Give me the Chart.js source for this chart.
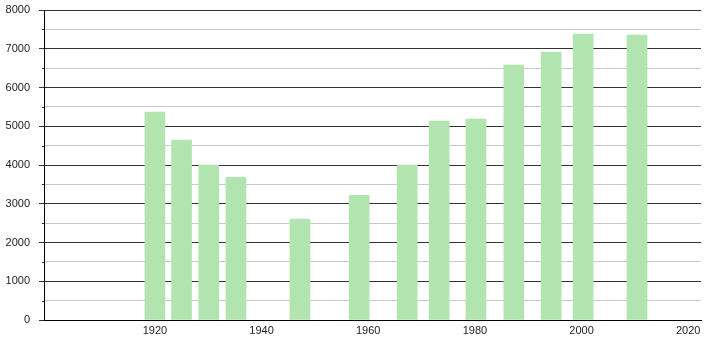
<!DOCTYPE html>
<html>
<head>
<meta charset="utf-8">
<script src="https://cdn.jsdelivr.net/npm/chart.js@4.4.1/dist/chart.umd.min.js"></script>
<style>
  html, body { margin: 0; padding: 0; background: #fff; }
  #wrap { width: 710px; height: 340px; }
</style>
</head>
<body>
<div id="wrap"><canvas id="popChart"></canvas></div>
<script>
// census dates (as fractional years) and population
const years = [1920, 1925, 1930.1, 1935.2, 1947.2, 1958.3, 1967.3, 1973.3, 1980.2, 1987.3, 1994.3, 2000.3, 2010.4];
const population = [5365, 4645, 4000, 3682, 2606, 3217, 4000, 5135, 5187, 6581, 6916, 7381, 7355];
const xTickYears = [1920, 1940, 1960, 1980, 2000, 2020];
const yMax = 8000;

const points = years.map((y, i) => ({ x: y, y: population[i] }));

// short dark ticks for the 500 steps on the y axis
const minorTicks = {
  id: "minorTicks",
  afterDraw(chart) {
    const ctx = chart.ctx;
    const ys = chart.scales.y;
    ctx.save();
    ctx.strokeStyle = "#333";
    ctx.lineWidth = 1;
    for (let v = 500; v < yMax; v += 1000) {
      const py = Math.round(ys.getPixelForValue(v)) + 0.5;
      ctx.beginPath();
      ctx.moveTo(ys.right - 2, py);
      ctx.lineTo(ys.right, py);
      ctx.stroke();
    }
    ctx.restore();
  }
};

const config = {
  type: "bar",
  data: {
    datasets: [{
      data: points,
      backgroundColor: "rgb(178,228,176)",
      borderWidth: 0,
      barThickness: 20
    }]
  },
  options: {
    responsive: true,
    maintainAspectRatio: false,
    animation: false,
    layout: { padding: { top: 10, right: 9, left: 0, bottom: 0 } },
    plugins: { legend: { display: false }, tooltip: { enabled: false } },
    scales: {
      x: {
        type: "linear",
        offset: false,
        min: 1899.2,
        max: 2022.4,
        afterBuildTicks: (scale) => {
          scale.ticks = xTickYears.map((v) => ({ value: v }));
        },
        afterFit: (scale) => { scale.height = 20; },
        grid: { display: false, drawTicks: false, offset: false },
        border: { display: true, color: "#000", width: 1 },
        ticks: {
          padding: 4,
          color: "#222",
          font: { family: "Liberation Sans", size: 11 },
          maxRotation: 0,
          callback: (v) => String(v)
        }
      },
      y: {
        min: 0,
        max: yMax,
        afterFit: (scale) => {
          scale.width = 44;
          scale.paddingTop = 0;
          scale.paddingBottom = 0;
        },
        border: { display: true, color: "#000", width: 1 },
        grid: {
          color: (c) => (c.tick && c.tick.value % 1000 === 0 ? "#333" : "#c8c8c8"),
          tickColor: (c) => (c.tick && c.tick.value % 1000 === 0 ? "#333" : "rgba(0,0,0,0)"),
          tickLength: 5
        },
        ticks: {
          stepSize: 500,
          padding: 9,
          color: "#222",
          font: { family: "Liberation Sans", size: 11 },
          callback: (v) => (v % 1000 === 0 ? String(v) : "")
        }
      }
    }
  },
  plugins: [minorTicks]
};

new Chart(document.getElementById("popChart"), config);
</script>
</body>
</html>
